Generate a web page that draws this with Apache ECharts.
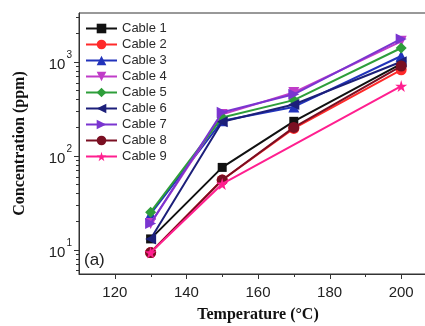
<!DOCTYPE html>
<html><head><meta charset="utf-8">
<script src="https://cdn.jsdelivr.net/npm/echarts@6/dist/echarts.min.js"></script>
<style>html,body{margin:0;padding:0;background:#fff}#c{width:425px;height:326px}</style>
</head><body><div id="c"></div>
<script>
const temps = [130, 150, 170, 200];
const cable1 = [13, 75, 232, 950];
const cable2 = [9.3, 55, 195, 820];
const cable3 = [24, 235, 330, 1150];
const cable4 = [19, 275, 470, 1650];
const cable5 = [25, 255, 390, 1400];
const cable6 = [13, 230, 350, 1000];
const cable7 = [19, 290, 450, 1750];
const cable8 = [9.3, 55, 200, 900];
const cable9 = [9.3, 50, null, 550];
const names = ['Cable 1','Cable 2','Cable 3','Cable 4','Cable 5','Cable 6','Cable 7','Cable 8','Cable 9'];
const xTickLabels = [120, 140, 160, 180, 200];

const star = 'path://M50,0 L61,35 L98,35 L68,57 L79,91 L50,70 L21,91 L32,57 L2,35 L39,35 Z';
const styles = [
  {color:'#111111', symbol:'rect', rot:0, size:9},
  {color:'#ff2a2a', symbol:'circle', rot:0, size:11},
  {color:'#2233bb', symbol:'triangle', rot:0, size:11},
  {color:'#c03cc8', symbol:'triangle', rot:180, size:11},
  {color:'#2e9e3a', symbol:'diamond', rot:0, size:11},
  {color:'#1c1f7a', symbol:'triangle', rot:90, size:11},
  {color:'#7a35d0', symbol:'triangle', rot:-90, size:11},
  {color:'#7a0f22', symbol:'circle', rot:0, size:11},
  {color:'#ff1f8f', symbol:star, rot:0, size:12}
];
const allData = [cable1,cable2,cable3,cable4,cable5,cable6,cable7,cable8,cable9];

const series = allData.map((arr, i) => ({
  name: names[i],
  type: 'line',
  data: temps.map((t, j) => [t, arr[j]]).filter(p => p[1] != null),
  symbol: styles[i].symbol,
  symbolRotate: styles[i].rot,
  symbolSize: styles[i].size,
  lineStyle: {color: styles[i].color, width: 2},
  itemStyle: {color: styles[i].color},
  z: 2 + i
}));

const chart = echarts.init(document.getElementById('c'), null, {renderer:'canvas'});
chart.setOption({
  animation: false,
  backgroundColor: '#fff',
  grid: {left: 79, top: 13, width: 358, height: 261, outerBoundsMode: 'none', containLabel: false,
         show: true, borderColor: '#333', borderWidth: 1, backgroundColor: 'transparent'},
  legend: {
    orient: 'vertical', left: 85, top: 22, padding: 0, itemWidth: 31, itemHeight: 12, itemGap: 3,
    data: names,
    textStyle: {fontFamily: 'Liberation Sans, Arial, sans-serif', fontSize: 13, color: '#2a2a2a', lineHeight: 12, height: 12}
  },
  xAxis: {
    type: 'value', min: 110, max: 210, interval: 10,
    splitLine: {show: false},
    axisLine: {lineStyle: {color: '#333', width: 1}},
    axisTick: {show: false},
    axisLabel: {
      margin: 11, fontFamily: 'Liberation Sans, Arial, sans-serif', fontSize: 15, color: '#222',
      formatter: v => xTickLabels.indexOf(v) >= 0 ? String(v) : ''
    },
    name: 'Temperature (°C)', nameLocation: 'middle', nameGap: 33,
    nameTextStyle: {fontFamily: 'Liberation Serif, Times New Roman, serif', fontWeight: 'bold', fontSize: 16, color: '#111'}
  },
  yAxis: {
    type: 'log', logBase: 10, min: 5.5, max: 3300,
    splitLine: {show: false},
    axisLine: {show: true, lineStyle: {color: '#333', width: 1}},
    axisTick: {show: false},
    minorTick: {show: false},
    axisLabel: {
      margin: 7, color: '#222',
      showMinLabel: false, showMaxLabel: false,
      formatter: v => {
        const e = Math.round(Math.log10(v));
        if (Math.abs(Math.pow(10, e) - v) > 1e-6) return '';
        return '{b|10}{s|' + e + '}';
      },
      rich: {
        b: {fontFamily: 'Liberation Sans, Arial, sans-serif', fontSize: 15, color: '#222', verticalAlign: 'bottom', lineHeight: 16},
        s: {fontFamily: 'Liberation Sans, Arial, sans-serif', fontSize: 10, color: '#222', verticalAlign: 'top', lineHeight: 22, padding: [0,0,8,1]}
      }
    },
    name: 'Concentration (ppm)', nameLocation: 'middle', nameGap: 51, nameRotate: 90,
    nameTextStyle: {fontFamily: 'Liberation Serif, Times New Roman, serif', fontWeight: 'bold', fontSize: 16, color: '#111'}
  },
  series: series
});

// axis ticks, computed through the axes
const g = [];
const x0 = chart.convertToPixel({xAxisIndex: 0}, 110);
const y0 = chart.convertToPixel({yAxisIndex: 0}, 5.5);
for (let t = 120; t <= 210; t += 10) {
  const px = Math.round(chart.convertToPixel({xAxisIndex: 0}, t)) + 0.5;
  const len = (t % 20 === 0) ? 5 : 3;
  g.push({type: 'line', shape: {x1: px, y1: y0, x2: px, y2: y0 + len}, style: {stroke: '#333', lineWidth: 1}});
}
for (let d = 1; d <= 1000; d *= 10) {
  for (let m = 1; m <= 9; m++) {
    const v = d * m;
    if (v < 5.5 || v > 3300) continue;
    const py = Math.round(chart.convertToPixel({yAxisIndex: 0}, v)) + 0.5;
    const len = (m === 1) ? 5 : 3;
    g.push({type: 'line', shape: {x1: x0 - len, y1: py, x2: x0, y2: py}, style: {stroke: '#333', lineWidth: 1}});
  }
}
g.push({type: 'text', left: 84, top: 252, style: {text: '(a)', font: '17px Liberation Sans, Arial, sans-serif', fill: '#222'}});
chart.setOption({graphic: g});
</script>
</body></html>
